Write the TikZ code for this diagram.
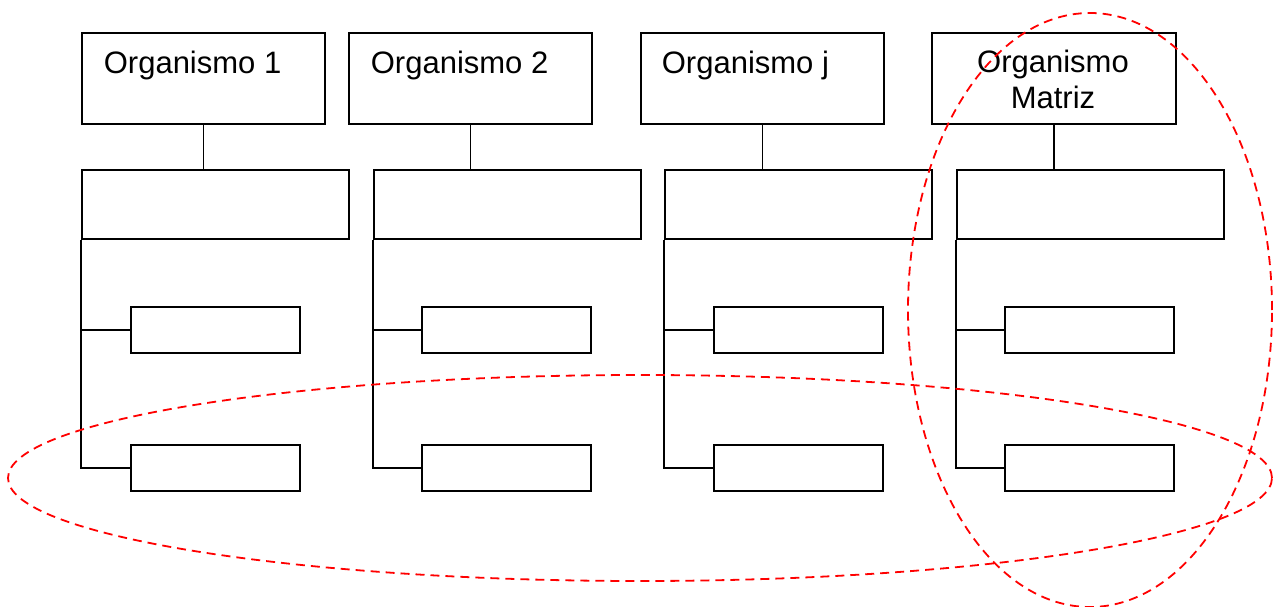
\documentclass[tikz,border=0pt]{standalone}
\usepackage{fontspec}
\setmainfont{Liberation Sans}
\usepackage{tikz}

\begin{document}
\begin{tikzpicture}[x=1pt,y=-1pt,line width=1.7pt,
  orgbox/.style={draw,anchor=north west,inner sep=0pt,minimum width=243pt,minimum height=91pt},
  unitbox/.style={draw,anchor=north west,inner sep=0pt,minimum width=267pt,minimum height=69pt},
  subbox/.style={draw,anchor=north west,inner sep=0pt,minimum width=169pt,minimum height=46pt},
  orgtext/.style={inner sep=0pt,font=\fontsize{31}{36}\selectfont},
  ring/.style={draw=red,line width=1.8pt,dash pattern=on 9pt off 6pt}]
\useasboundingbox (0,0) rectangle (1280,607);
\node [orgbox] (org1) at (81,32) {};
\node [orgtext,anchor=base west] (org1txt) at (103,74) {Organismo 1};
\node [unitbox] (unit1) at (81,169) {};
\node [subbox] (sub11) at (130,306) {};
\node [subbox] (sub12) at (130,444) {};
\draw (org1.south) -- (org1.south |- unit1.north);
\draw (unit1.south west) |- (sub12.west);
\draw (unit1.south west |- sub11.west) -- (sub11.west);
\node [orgbox] (org2) at (348,32) {};
\node [orgtext,anchor=base west] (org2txt) at (370,74) {Organismo 2};
\node [unitbox] (unit2) at (373,169) {};
\node [subbox] (sub21) at (421,306) {};
\node [subbox] (sub22) at (421,444) {};
\draw (org2.south) -- (org2.south |- unit2.north);
\draw (unit2.south west) |- (sub22.west);
\draw (unit2.south west |- sub21.west) -- (sub21.west);
\node [orgbox] (orgj) at (640,32) {};
\node [orgtext,anchor=base west] (orgjtxt) at (661,74) {Organismo j};
\node [unitbox] (unitj) at (664,169) {};
\node [subbox] (subj1) at (713,306) {};
\node [subbox] (subj2) at (713,444) {};
\draw (orgj.south) -- (orgj.south |- unitj.north);
\draw (unitj.south west) |- (subj2.west);
\draw (unitj.south west |- subj1.west) -- (subj1.west);
\node [orgbox,minimum width=244pt] (orgm) at (931,32) {};
\node [orgtext,align=center,anchor=base] (orgmtxt) at (1053,109) {Organismo\\Matriz};
\node [unitbox] (unitm) at (956,169) {};
\node [subbox] (subm1) at (1004,306) {};
\node [subbox] (subm2) at (1004,444) {};
\draw (orgm.south) -- (orgm.south |- unitm.north);
\draw (unitm.south west) |- (subm2.west);
\draw (unitm.south west |- subm1.west) -- (subm1.west);
\draw [ring] (640,478) ellipse [x radius=632pt,y radius=103pt];
\draw [ring] (1090,310) ellipse [x radius=182pt,y radius=297pt];
\end{tikzpicture}
\end{document}
